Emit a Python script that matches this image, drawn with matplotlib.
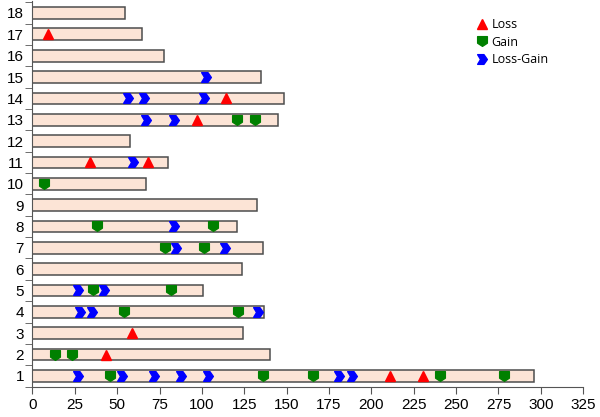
import matplotlib
matplotlib.use("Agg")
import matplotlib.pyplot as plt
from matplotlib.path import Path

# bar lengths for rows 1..18
rows = list(range(1, 19))
lengths = [296, 140, 124, 136.4, 100.4, 123.6, 136, 120.5, 132.8, 67,
           80, 57.7, 145, 148.6, 134.8, 77.4, 64.6, 54.4]

# events (row, position)
loss_rows = [1, 1, 2, 3, 11, 11, 13, 14, 17]
loss_pos = [210.9, 230.4, 43.5, 58.5, 33.7, 68.5, 97.2, 114.3, 9]

gain_rows = [1, 1, 1, 1, 1, 2, 2, 4, 4, 5, 5, 7, 7, 8, 8, 10, 13, 13]
gain_pos = [45.9, 135.8, 165.5, 240.4, 278.3, 13.3, 23.5, 54, 121.6, 35.7, 81.7,
            78.3, 101.2, 38.2, 106.3, 6.6, 121, 131.3]

lg_rows = [1, 1, 1, 1, 1, 1, 1, 4, 4, 4, 5, 5, 7, 7, 8, 11, 13, 13, 14, 14, 14, 15]
lg_pos = [26.7, 52.6, 71.5, 87.8, 103.5, 180.8, 188.3, 28, 35.3, 133.4, 26.8, 42,
          85, 113.4, 83.3, 59.3, 66.8, 83.7, 56.3, 65.6, 101.4, 102.5]

# custom marker shapes
shield = Path([(-1, 1), (1, 1), (1, -0.35), (0, -1), (-1, -0.35), (-1, 1)],
              [Path.MOVETO, Path.LINETO, Path.LINETO, Path.LINETO, Path.LINETO, Path.CLOSEPOLY])
chevron = Path([(-1, 1), (0.3, 1), (1, 0), (0.3, -1), (-1, -1), (-0.4, 0), (-1, 1)],
               [Path.MOVETO, Path.LINETO, Path.LINETO, Path.LINETO, Path.LINETO, Path.LINETO, Path.CLOSEPOLY])

plt.rcParams['font.family'] = ['Liberation Sans', 'DejaVu Sans']

fig = plt.figure(figsize=(6, 4.17), dpi=100)
ax = fig.add_axes([0.054, 0.073, 0.918, 0.924])

ax.barh(rows, lengths, height=0.55, color='#fce4d6', edgecolor='#4d4d4d', linewidth=1.1, zorder=2)

ax.plot(loss_pos, loss_rows, linestyle='none', marker='^', color='#ff0000', markersize=7, label='Loss', zorder=3)
ax.plot(gain_pos, gain_rows, linestyle='none', marker=shield, color='#008000', markersize=7, label='Gain', zorder=3)
ax.plot(lg_pos, lg_rows, linestyle='none', marker=chevron, color='#0000ff', markersize=7, label='Loss-Gain', zorder=3)

ax.set_xlim(0, 325)
ax.set_ylim(0.5, 18.55)
ax.set_xticks(range(0, 326, 25))
ax.set_yticks(rows)
ax.set_yticks([r - 0.5 for r in rows] + [18.5], minor=True)
ax.tick_params(axis='y', which='major', length=0, labelsize=11, pad=6)
ax.tick_params(axis='y', which='minor', length=5, color='#555555')
ax.tick_params(axis='x', length=5, labelsize=11, color='#555555')

for s in ['top', 'right']:
    ax.spines[s].set_visible(False)
for s in ['left', 'bottom']:
    ax.spines[s].set_color('#555555')

ax.legend(loc='upper left', bbox_to_anchor=(0.784, 0.985), frameon=False,
          handletextpad=0.3, labelspacing=0.35, handlelength=1.0,
          prop={'family': ['Open Sans', 'DejaVu Sans'], 'size': 9})

fig.savefig('out.png', dpi=100)
